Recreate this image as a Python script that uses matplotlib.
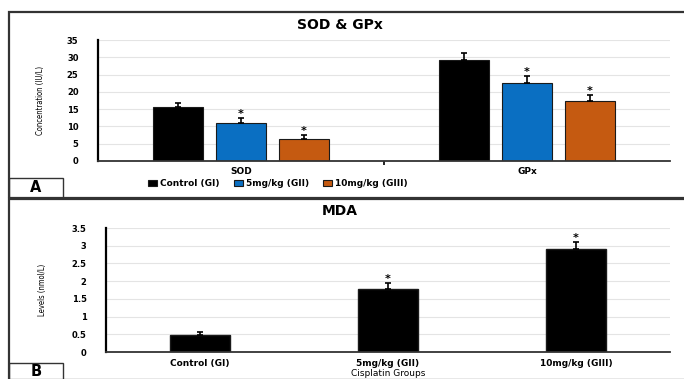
import numpy as np
import matplotlib
matplotlib.use("Agg")
from matplotlib import pyplot as plt
from matplotlib.patches import Rectangle

# Panel A data
params = ["SOD", "GPx"]
groups = ["Control (GI)", "5mg/kg (GII)", "10mg/kg (GIII)"]
colors = ["#000000", "#0a6fc2", "#c55a11"]
a_means = [[15.6, 29.2], [11.0, 22.6], [6.4, 17.4]]
a_errs = [[1.2, 2.0], [1.4, 2.0], [1.1, 1.8]]
a_star = [False, True, True]

# Panel B data
mda_groups = ["Control (GI)", "5mg/kg (GII)", "10mg/kg (GIII)"]
mda_means = [0.48, 1.78, 2.91]
mda_errs = [0.08, 0.17, 0.2]
mda_star = [False, True, True]

plt.rcParams["font.family"] = "DejaVu Sans"
plt.rcParams["font.weight"] = "bold"

fig = plt.figure(figsize=(6.84, 3.79), dpi=100)
W, H = 684, 379


def fx(px):
    return px / W


def fy(py):
    return 1 - py / H


# panel frames
fig.patches.append(Rectangle((fx(9), fy(198)), fx(680), fy(12) - fy(198), transform=fig.transFigure,
                             fill=False, ec="#333333", lw=1.6))
fig.patches.append(Rectangle((fx(9), fy(380)), fx(680), fy(199) - fy(380), transform=fig.transFigure,
                             fill=False, ec="#333333", lw=1.6))
for lab, top, bot in [("A", 178, 198), ("B", 363, 381)]:
    fig.patches.append(Rectangle((fx(9), fy(bot)), fx(63 - 9), fy(top) - fy(bot), transform=fig.transFigure,
                                 fill=False, ec="#333333", lw=1.0))
    fig.text(fx(36), fy(top + 9), lab, ha="center", va="center", fontsize=10.5, fontweight="bold")


def style(ax):
    for s in ["top", "right"]:
        ax.spines[s].set_visible(False)
    ax.spines["left"].set_linewidth(1.6)
    ax.spines["bottom"].set_linewidth(1.3)
    ax.spines["bottom"].set_color("#333333")
    ax.yaxis.grid(True, color="#e4e4e4", lw=0.8)
    ax.set_axisbelow(True)
    ax.tick_params(axis="y", length=0, labelsize=6, pad=14)


# Panel A
axA = fig.add_axes([fx(98), fy(161), fx(670 - 98), fy(40) - fy(161)])
x = np.arange(len(params))
width = 0.175
offs = [-0.22, 0.0, 0.22]
for i in range(len(groups)):
    axA.bar(x + offs[i], a_means[i], width, color=colors[i], edgecolor="#1a1a1a", lw=0.8, label=groups[i])
    axA.errorbar(x + offs[i], a_means[i], yerr=[np.zeros(2), a_errs[i]], fmt="none", ecolor="black",
                 elinewidth=1.2, capsize=2.5, capthick=1.2)
    if a_star[i]:
        for j in range(len(params)):
            axA.text(x[j] + offs[i], a_means[i][j] + a_errs[i][j] - 0.3, "*", ha="center", va="bottom",
                     fontsize=8, fontweight="bold")
axA.set_xlim(-0.5, 1.5)
axA.set_ylim(0, 35)
axA.set_yticks(range(0, 36, 5))
axA.set_xticks(x)
axA.set_xticklabels(params, fontsize=6.5)
axA.set_xticks([0.5], minor=True)
axA.tick_params(axis="x", which="major", length=0, pad=4)
axA.tick_params(axis="x", which="minor", length=3, width=1.2)
style(axA)
axA.set_ylabel("Concentration (IU/L)", fontsize=5.5, fontweight="normal", fontstretch="condensed", labelpad=16)
fig.text(fx(340), fy(25), "SOD & GPx", ha="center", va="center", fontsize=10, fontweight="bold")
fig.legend(loc="center", bbox_to_anchor=(fx(278), fy(184)), ncol=3, fontsize=6.5, frameon=False,
           handlelength=1.0, handleheight=0.6, columnspacing=1.6, handletextpad=0.3)

# Panel B
axB = fig.add_axes([fx(106), fy(352), fx(670 - 106), fy(228) - fy(352)])
xb = np.arange(len(mda_groups))
axB.bar(xb, mda_means, 0.32, color="black", edgecolor="#1a1a1a")
axB.errorbar(xb, mda_means, yerr=[np.zeros(3), mda_errs], fmt="none", ecolor="black",
             elinewidth=1.2, capsize=2.5, capthick=1.2)
for j in range(len(mda_groups)):
    if mda_star[j]:
        axB.text(xb[j], mda_means[j] + mda_errs[j] - 0.03, "*", ha="center", va="bottom",
                 fontsize=8, fontweight="bold")
axB.set_xlim(-0.5, 2.5)
axB.set_ylim(0, 3.5)
axB.set_yticks(np.arange(0, 3.6, 0.5))
axB.set_yticklabels(["0", "0.5", "1", "1.5", "2", "2.5", "3", "3.5"])
axB.set_xticks(xb)
axB.set_xticklabels(mda_groups, fontsize=6.5)
axB.tick_params(axis="x", length=0, pad=5)
style(axB)
axB.set_ylabel("Levels (nmol/L)", fontsize=5.5, fontweight="normal", fontstretch="condensed", labelpad=18)
axB.set_xlabel("Cisplatin Groups", fontsize=6.5, labelpad=1)
fig.text(fx(340), fy(211), "MDA", ha="center", va="center", fontsize=10, fontweight="bold")

fig.savefig("out.png", dpi=100)
